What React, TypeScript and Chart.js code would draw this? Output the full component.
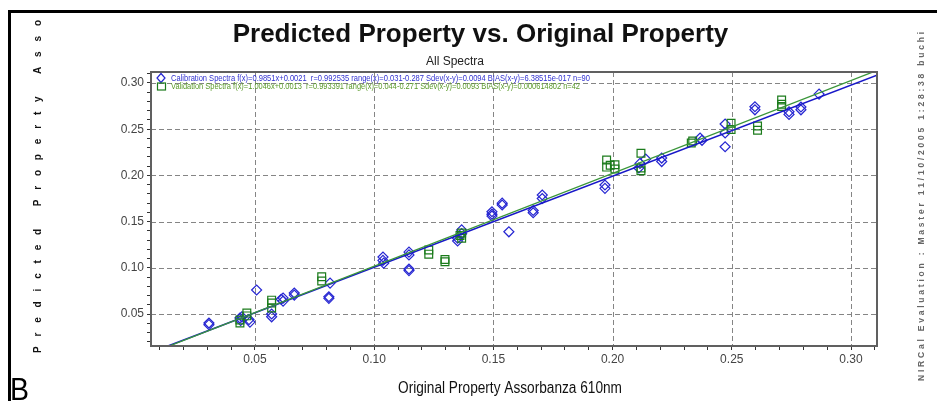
import { useEffect, useRef } from 'react';
import { Chart, registerables } from 'chart.js';

Chart.register(...registerables);

// ---- data ----
const calX = [0.0307, 0.0307, 0.0437, 0.044, 0.0445, 0.0479, 0.0475, 0.0507, 0.057, 0.057, 0.0618, 0.0618, 0.061, 0.0665, 0.0665,
  0.081, 0.081, 0.0815, 0.1037, 0.1037, 0.104, 0.1146, 0.1146, 0.1146, 0.1146, 0.135, 0.135, 0.1367, 0.1367,
  0.1494, 0.1494, 0.1494, 0.1537, 0.1537, 0.1565, 0.1667, 0.1667, 0.1705, 0.1705, 0.1968, 0.1968,
  0.2115, 0.211, 0.2139, 0.2206, 0.2206, 0.2367, 0.2375, 0.2472, 0.2472, 0.2472, 0.2597, 0.2597,
  0.274, 0.274, 0.279, 0.279, 0.2866];
const calY = [0.0403, 0.0385, 0.0457, 0.043, 0.047, 0.0413, 0.044, 0.076, 0.047, 0.05, 0.0673, 0.064, 0.066, 0.0727, 0.0705,
  0.0687, 0.067, 0.0835, 0.1117, 0.108, 0.105, 0.117, 0.114, 0.0987, 0.097, 0.132, 0.129, 0.141, 0.137,
  0.1607, 0.156, 0.158, 0.17, 0.168, 0.139, 0.1596, 0.162, 0.1788, 0.175, 0.1896, 0.186,
  0.213, 0.208, 0.2177, 0.2188, 0.215, 0.2405, 0.238, 0.2556, 0.246, 0.231, 0.2743, 0.271,
  0.2689, 0.266, 0.274, 0.271, 0.288];
const valX = [0.0437, 0.0437, 0.0466, 0.0466, 0.057, 0.057, 0.057, 0.078, 0.078, 0.1229, 0.1229, 0.1297, 0.1297,
  0.1367, 0.1367, 0.136, 0.1975, 0.1975, 0.199, 0.201, 0.201, 0.2119, 0.2119, 0.2119, 0.2336, 0.233,
  0.2497, 0.2497, 0.2608, 0.2608, 0.2709, 0.2709, 0.2709];
const valY = [0.0403, 0.0435, 0.051, 0.048, 0.065, 0.062, 0.0565, 0.0904, 0.0857, 0.1193, 0.1148, 0.1066, 0.109,
  0.1377, 0.132, 0.135, 0.2166, 0.209, 0.211, 0.2115, 0.207, 0.2239, 0.208, 0.205, 0.2372, 0.235,
  0.2564, 0.2497, 0.2535, 0.2488, 0.2816, 0.277, 0.2745];
const calFit = [0.9851, 0.0021];
const valFit = [1.0046, 0.0013];
const xTickLabels = ['0.05', '0.10', '0.15', '0.20', '0.25', '0.30'];
const yTickLabels = ['0.05', '0.10', '0.15', '0.20', '0.25', '0.30'];
const xRange = [0.0064, 0.3109];
const yRange = [0.0154, 0.3119];

const TITLE = 'Predicted Property vs. Original Property';
const SUBTITLE = 'All Spectra';
const X_TITLE = 'Original Property Assorbanza 610nm';
const Y_TITLE = 'Predicted Property Asso';
const SIDE_TEXT = 'NIRCal Evaluation : Master 11/10/2005 1:28:38 buchi';
const PANEL = 'B';
const LEGEND_CAL = 'Calibration Spectra f(x)=0.9851x+0.0021  r=0.992535 range(x)=0.031-0.287 Sdev(x-y)=0.0094 BIAS(x-y)=6.38515e-017 n=90';
const LEGEND_VAL = 'Validation Spectra f(x)=1.0046x+0.0013  r=0.993391 range(x)=0.044-0.271 Sdev(x-y)=0.0093 BIAS(x-y)=0.000614802 n=42';

const BLUE = '#2626d2';
const GREEN = '#1b7b1b';
const FONT = '"Liberation Sans", Arial, sans-serif';

function minorTicks(scale: any) {
  const out: any[] = [];
  const a = Math.ceil(scale.min * 100 - 1e-9);
  const b = Math.floor(scale.max * 100 + 1e-9);
  for (let i = a; i <= b; i++) out.push({ value: i / 100 });
  scale.ticks = out;
}
function labelFor(labels: string[]) {
  return (v: any) => {
    const i = Math.round(Number(v) * 100);
    return i % 5 === 0 && labels[i / 5 - 1] ? labels[i / 5 - 1] : '';
  };
}

function spacedVertical(ctx: CanvasRenderingContext2D, text: string, cx: number, startY: number, length: number) {
  const chars = Array.from(text);
  const widths = chars.map((c) => ctx.measureText(c).width);
  const total = widths.reduce((s, w) => s + w, 0);
  const gap = (length - total) / (chars.length - 1);
  ctx.save();
  ctx.translate(cx, startY);
  ctx.rotate(-Math.PI / 2);
  ctx.textAlign = 'left';
  ctx.textBaseline = 'middle';
  let pos = 0;
  chars.forEach((c, i) => {
    ctx.fillText(c, pos, 0);
    pos += widths[i] + gap;
  });
  ctx.restore();
}

const decor = {
  id: 'decor',
  beforeDatasetsDraw(chart: any) {
    const { ctx, chartArea, scales } = chart;
    const { left, right, top, bottom } = chartArea;
    ctx.save();
    ctx.strokeStyle = '#858585';
    ctx.lineWidth = 1;
    ctx.setLineDash([5, 3]);
    xTickLabels.forEach((l) => {
      const px = Math.round(scales.x.getPixelForValue(parseFloat(l))) + 0.5;
      ctx.beginPath();
      ctx.moveTo(px, top);
      ctx.lineTo(px, bottom);
      ctx.stroke();
    });
    yTickLabels.forEach((l) => {
      const py = Math.round(scales.y.getPixelForValue(parseFloat(l))) + 0.5;
      ctx.beginPath();
      ctx.moveTo(left, py);
      ctx.lineTo(right, py);
      ctx.stroke();
    });
    ctx.restore();
  },
  afterDraw(chart: any) {
    const { ctx, chartArea } = chart;
    const { left, right, top, bottom } = chartArea;
    ctx.save();
    // plot box
    ctx.strokeStyle = '#606060';
    ctx.lineWidth = 2;
    ctx.strokeRect(left, top, right - left, bottom - top);

    // legend
    ctx.lineWidth = 1.2;
    ctx.strokeStyle = BLUE;
    ctx.beginPath();
    ctx.moveTo(161, 73.5);
    ctx.lineTo(165, 78);
    ctx.lineTo(161, 82.5);
    ctx.lineTo(157, 78);
    ctx.closePath();
    ctx.stroke();
    ctx.strokeStyle = GREEN;
    ctx.strokeRect(157.5, 83, 8, 7);
    ctx.font = `8.5px ${FONT}`;
    ctx.textBaseline = 'middle';
    ctx.textAlign = 'left';
    ctx.fillStyle = '#3030d0';
    ctx.fillText(LEGEND_CAL, 171, 78.5, 419);
    ctx.fillStyle = '#5a9a2a';
    ctx.fillText(LEGEND_VAL, 171, 86.5, 409);

    // titles
    ctx.fillStyle = '#111';
    ctx.textAlign = 'center';
    ctx.textBaseline = 'alphabetic';
    ctx.font = `bold 26px ${FONT}`;
    ctx.fillText(TITLE, 480.5, 42, 506);
    ctx.font = `12px ${FONT}`;
    ctx.fillStyle = '#222';
    ctx.fillText(SUBTITLE, 455, 65, 58);
    ctx.font = `16px ${FONT}`;
    ctx.fillStyle = '#111';
    ctx.fillText(X_TITLE, 510, 393, 224);

    // rotated y title
    ctx.fillStyle = '#111';
    ctx.font = `bold 10px ${FONT}`;
    spacedVertical(ctx, Y_TITLE, 38, 353, 333);

    // side text
    ctx.fillStyle = '#666';
    ctx.font = `bold 8.5px ${FONT}`;
    spacedVertical(ctx, SIDE_TEXT, 922, 381, 349);

    // panel letter
    ctx.fillStyle = '#000';
    ctx.textAlign = 'left';
    ctx.font = `31px ${FONT}`;
    ctx.fillText(PANEL, 10, 400, 19);

    // outer frame
    ctx.strokeStyle = '#000';
    ctx.lineWidth = 3;
    ctx.beginPath();
    ctx.moveTo(9.5, 401);
    ctx.lineTo(9.5, 11.5);
    ctx.lineTo(937, 11.5);
    ctx.stroke();
    ctx.restore();
  },
};

export default function App() {
  const ref = useRef<HTMLCanvasElement | null>(null);
  useEffect(() => {
    if (!ref.current) return;
    const fitLine = (fit: number[]) => xRange.map((x) => ({ x, y: fit[0] * x + fit[1] }));
    const chart = new Chart(ref.current, {
      type: 'scatter',
      data: {
        datasets: [
          {
            label: 'Calibration Spectra',
            data: calX.map((x, i) => ({ x, y: calY[i] })),
            pointStyle: 'rectRot',
            pointRadius: 5,
            pointBorderColor: BLUE,
            pointBackgroundColor: 'rgba(0,0,0,0)',
            pointBorderWidth: 1.2,
            showLine: false,
            order: 3,
          },
          {
            label: 'Validation Spectra',
            data: valX.map((x, i) => ({ x, y: valY[i] })),
            pointStyle: 'rect',
            pointRadius: 5.5,
            pointBorderColor: GREEN,
            pointBackgroundColor: 'rgba(0,0,0,0)',
            pointBorderWidth: 1.2,
            showLine: false,
            order: 2,
          },
          {
            label: 'Calibration fit',
            data: fitLine(calFit),
            showLine: true,
            pointRadius: 0,
            borderColor: '#1818c8',
            borderWidth: 1.6,
            order: 1,
          },
          {
            label: 'Validation fit',
            data: fitLine(valFit),
            showLine: true,
            pointRadius: 0,
            borderColor: '#3a963a',
            borderWidth: 1.3,
            order: 0,
          },
        ],
      } as any,
      options: {
        animation: false,
        responsive: true,
        maintainAspectRatio: false,
        layout: { padding: { left: 0, right: 60, top: 72, bottom: 0 } },
        plugins: { legend: { display: false }, tooltip: { enabled: false }, title: { display: false } },
        scales: {
          x: {
            type: 'linear',
            min: xRange[0],
            max: xRange[1],
            afterBuildTicks: minorTicks,
            afterFit: (s: any) => { s.height = 55; },
            grid: { drawOnChartArea: false, drawTicks: true, tickLength: 4, tickColor: '#333' },
            border: { display: false },
            ticks: { autoSkip: false, maxRotation: 0, padding: 2, color: '#444', font: { family: FONT, size: 12 }, callback: labelFor(xTickLabels) },
          },
          y: {
            type: 'linear',
            min: yRange[0],
            max: yRange[1],
            afterBuildTicks: minorTicks,
            afterFit: (s: any) => { s.width = 151; },
            grid: { drawOnChartArea: false, drawTicks: true, tickLength: 4, tickColor: '#333' },
            border: { display: false },
            ticks: { autoSkip: false, padding: 3, color: '#444', font: { family: FONT, size: 12 }, callback: labelFor(yTickLabels) },
          },
        },
      } as any,
      plugins: [decor],
    });
    return () => chart.destroy();
  }, []);
  return (
    <div style={{ position: 'absolute', left: 0, top: 0, width: 937, height: 401, background: '#fff' }}>
      <canvas ref={ref} />
    </div>
  );
}
